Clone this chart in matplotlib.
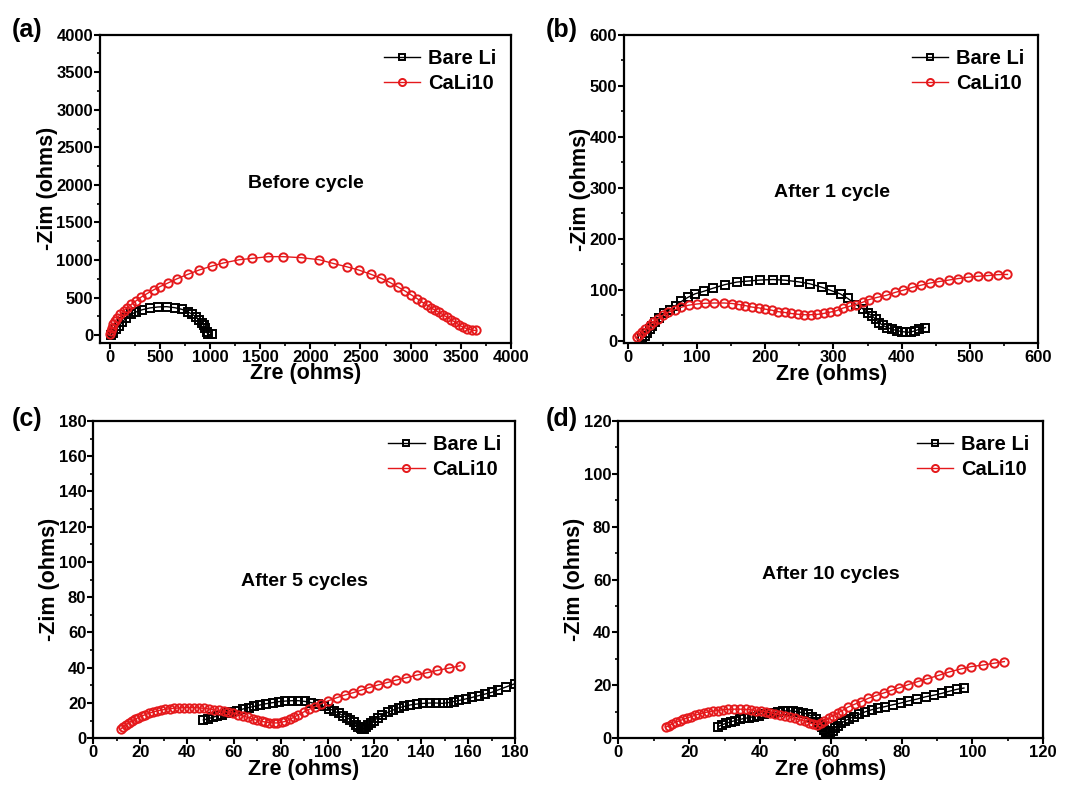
import matplotlib
matplotlib.use("Agg")
import matplotlib.pyplot as plt
from matplotlib.ticker import MultipleLocator

plt.rcParams['font.family'] = ['Liberation Sans', 'DejaVu Sans']
plt.rcParams['font.weight'] = 'bold'

# (a) before cycle
a_bare_x = [6, 32, 58, 90, 123, 161, 210, 258, 323, 397, 477, 565, 645, 716, 774, 823, 861,
            890, 913, 936, 952, 968, 974, 1016]
a_bare_y = [0, 31, 76, 121, 174, 232, 277, 308, 339, 362, 375, 379, 366, 344, 312, 277, 241,
            205, 165, 129, 89, 45, 9, 9]
a_cali_x = [0, 6, 16, 32, 52, 74, 103, 135, 171, 213, 258, 313, 371, 435, 500, 574, 668, 774,
            887, 1016, 1129, 1290, 1419, 1581, 1726, 1910, 2087, 2226, 2361, 2484, 2600, 2703,
            2794, 2871, 2942, 3007, 3065, 3113, 3162, 3200, 3242, 3281, 3323, 3361, 3403, 3445,
            3484, 3523, 3565, 3613, 3652]
a_cali_y = [18, 54, 98, 143, 187, 232, 277, 321, 366, 411, 455, 509, 554, 603, 647, 692, 750,
            808, 866, 920, 960, 1004, 1022, 1045, 1045, 1031, 1004, 955, 911, 866, 812, 759,
            701, 643, 589, 536, 487, 442, 402, 366, 335, 304, 272, 241, 205, 174, 134, 107,
            85, 67, 62]

# (b) after 1 cycle
b_bare_x = [20.5, 23.8, 27, 31, 34.8, 39.5, 45, 52, 60.5, 69, 77.6, 87, 97.6, 110.5, 124, 141,
            158.6, 175, 193, 212, 229.5, 249, 265.7, 283, 296, 310.5, 321, 333, 343, 350, 357,
            362, 366.7, 372.9, 378.6, 385.7, 392.9, 400, 407, 413, 419, 426, 434.8]
b_bare_y = [4.5, 9.7, 16, 22.6, 29, 36.8, 45, 53.5, 61, 69, 77, 85, 92, 97, 103, 110, 115, 117,
            119, 120, 118.7, 115.5, 111.6, 105, 98.7, 91.6, 83, 71, 62.6, 54.8, 48.4, 42, 35.5,
            30, 25.8, 22.6, 20, 18, 16.8, 16.8, 19.4, 22.6, 25.8]
b_cali_x = [12, 15.7, 20.5, 25, 31, 36.7, 42.9, 50, 58.6, 68, 77.6, 88, 100, 112, 126, 140.5,
            152, 162, 171, 181, 190.5, 200, 209.5, 219, 228.6, 238, 247.6, 257, 266.7, 276,
            285.7, 295, 304.8, 314, 324, 333, 343, 352, 364, 377.6, 390.5, 402, 415.7, 428.6,
            441, 454.8, 469, 483, 497.6, 512, 526, 540.5, 554.8]
b_cali_y = [6.5, 11.6, 17.4, 23.9, 30, 36.8, 43, 49.7, 56, 61, 65.8, 69.7, 72, 73.5, 74, 74, 73,
            71, 69, 66, 64.5, 62, 60, 57, 55.5, 53.5, 52, 51, 51, 51.6, 53.5, 56, 59, 64, 67.7,
            71, 75.5, 80.6, 85, 89, 94.8, 99, 104.5, 109, 113, 116, 119, 122, 124.5, 126.4,
            127.7, 129.6, 130]

# (c) after 5 cycles
c_bare_x = [47, 49, 51, 52.8, 54.9, 57, 59, 61.4, 63.9, 66.3, 68.7, 71.2, 73.8, 76.6, 79.3, 82,
            84.8, 87.6, 90.3, 93.1, 95.9, 98.3, 100.7, 102.8, 104.8, 106.6, 108.3, 109.8, 111.2,
            112.3, 113.2, 114.2, 114.9, 115.7, 116.6, 117.4, 118.5, 119.7, 121.5, 123.4, 125.7,
            128, 130.3, 132.8, 135.3, 138, 140.8, 143.6, 146.3, 149.1, 151.4, 153.8, 156.3, 159,
            161.8, 164.6, 167.3, 170, 172.8, 176, 180]
c_bare_y = [10.4, 11.1, 11.9, 12.6, 13.4, 14.2, 14.9, 15.7, 16.6, 17.4, 18.1, 18.9, 19.6, 20.2,
            20.8, 21.1, 21.3, 21.3, 20.9, 20.2, 19.2, 18.1, 16.8, 15.5, 14.2, 12.8, 11.7, 10.4,
            9.1, 7.7, 6.6, 5.7, 5.1, 5.5, 6.2, 7.5, 8.9, 10, 11.5, 13.2, 14.7, 16, 17.2, 18.1,
            18.9, 19.4, 19.8, 20, 20, 19.8, 20.2, 20.8, 21.5, 22.3, 23.2, 24.2, 25.1, 26, 27.4,
            29, 31]
c_cali_x = [11.7, 12.8, 13.9, 15.2, 16.4, 17.8, 19.2, 20.7, 22.2, 23.9, 25.5, 27.2, 29, 30.8,
            32.7, 34.6, 36.6, 38.8, 41, 43.2, 45.2, 47.3, 49.4, 51.4, 53.5, 55.6, 57.7, 59.7,
            61.8, 63.9, 65.9, 68, 70, 71.9, 73.5, 75.2, 77, 78.6, 80.4, 82, 83.9, 85.7, 87.6,
            89.8, 92.1, 94.5, 97.2, 100.4, 103.9, 107.3, 110.8, 114.2, 117.7, 121.4, 125.2,
            129.4, 133.5, 138, 142.5, 146.9, 151.9, 156.6]
c_cali_y = [5.1, 6.6, 7.7, 8.9, 9.8, 10.8, 11.7, 12.6, 13.4, 14.2, 14.9, 15.5, 16, 16.4, 16.8,
            17, 17.2, 17.4, 17.4, 17.4, 17.2, 17, 16.6, 16.2, 15.8, 15.3, 14.7, 14.2, 13.4, 12.6,
            11.9, 10.9, 10.2, 9.6, 9.2, 8.9, 8.7, 8.7, 9.1, 9.6, 10.8, 11.9, 13.4, 14.9, 16.4,
            17.9, 19.6, 21.3, 23, 24.5, 25.8, 27.2, 28.7, 30.2, 31.5, 33, 34.3, 35.8, 37.2,
            38.5, 39.8, 41.1]

# (d) after 10 cycles
d_bare_x = [28.2, 29.3, 30.5, 31.7, 33, 34.3, 35.5, 36.9, 38.3, 39.7, 41.1, 42.5, 43.9, 45.2,
            46.6, 48, 49.4, 50.8, 52.2, 53.6, 54.8, 55.7, 56.4, 57, 57.5, 58.1, 58.6, 59.3,
            59.9, 60.5, 61.1, 61.9, 62.8, 63.9, 65.1, 66.5, 68.1, 69.7, 71.6, 73.4, 75.4, 77.6,
            79.7, 81.9, 84.3, 86.8, 89.1, 91.4, 93.5, 95.6, 97.6]
d_bare_y = [4.4, 5.1, 5.7, 6.2, 6.7, 7.1, 7.5, 7.8, 8.2, 8.6, 9, 9.4, 9.7, 10, 10.3, 10.4, 10.3,
            10, 9.6, 9, 8.2, 7.3, 6.3, 5.3, 4.2, 3.2, 2.4, 2.2, 2.4, 2.9, 3.7, 4.7, 5.6, 6.5,
            7.3, 8.2, 9.1, 10, 10.8, 11.4, 12, 12.7, 13.3, 14.1, 14.8, 15.7, 16.3, 17, 17.8,
            18.5, 19]
d_cali_x = [13.4, 14.3, 15.2, 16.2, 17.3, 18.4, 19.5, 20.6, 21.7, 22.9, 24.1, 25.4, 26.8, 28.2,
            29.5, 31.1, 32.8, 34.4, 36, 37.4, 38.8, 40.2, 41.6, 42.9, 44.3, 45.7, 47.1, 48.5,
            49.9, 51.2, 52.6, 53.8, 54.9, 56, 57.2, 58.2, 59.4, 60.5, 61.9, 63.3, 64.9, 66.8,
            68.6, 70.6, 72.7, 74.9, 77.1, 79.4, 81.9, 84.5, 87.3, 90.5, 93.5, 96.7, 99.7, 103,
            106.2, 109]
d_cali_y = [4.2, 4.8, 5.4, 6.1, 6.6, 7.2, 7.7, 8.2, 8.7, 9.2, 9.6, 10, 10.3, 10.5, 10.8, 10.9,
            11, 11, 10.9, 10.8, 10.5, 10.3, 10, 9.6, 9.2, 8.9, 8.4, 8, 7.5, 7, 6.5, 5.9, 5.4,
            5.1, 5.7, 6.6, 7.6, 8.5, 9.5, 10.5, 11.8, 12.9, 13.9, 15.1, 16.1, 17.1, 18.1, 19.1,
            20.3, 21.4, 22.5, 23.8, 25.1, 26.2, 27.1, 27.7, 28.4, 29]

panels = [
    dict(tag="(a)", note="Before cycle", bx=a_bare_x, by=a_bare_y, cx=a_cali_x, cy=a_cali_y,
         xlim=(-100, 4000), ylim=(-100, 4000), major=500, minor=250, note_xy=(1950, 2020),
         rect=[0.0934, 0.5657, 0.3835, 0.3904], tag_xy=(0.011, 0.977)),
    dict(tag="(b)", note="After 1 cycle", bx=b_bare_x, by=b_bare_y, cx=b_cali_x, cy=b_cali_y,
         xlim=(-6, 600), ylim=(-5, 600), major=100, minor=50, note_xy=(298, 290),
         rect=[0.5829, 0.5649, 0.3866, 0.3911], tag_xy=(0.510, 0.977)),
    dict(tag="(c)", note="After 5 cycles", bx=c_bare_x, by=c_bare_y, cx=c_cali_x, cy=c_cali_y,
         xlim=(0, 180), ylim=(0, 180), major=20, minor=10, note_xy=(90, 89),
         rect=[0.0871, 0.0643, 0.3937, 0.4022], tag_xy=(0.011, 0.484)),
    dict(tag="(d)", note="After 10 cycles", bx=d_bare_x, by=d_bare_y, cx=d_cali_x, cy=d_cali_y,
         xlim=(0, 120), ylim=(0, 120), major=20, minor=10, note_xy=(60, 62),
         rect=[0.5773, 0.0643, 0.3968, 0.4022], tag_xy=(0.510, 0.484)),
]

red = '#e5191c'
fig = plt.figure(figsize=(10.71, 7.89), dpi=100)

for p in panels:
    ax = fig.add_axes(p["rect"])
    ax.plot(p["bx"], p["by"], color='black', marker='s', markersize=5.5, mfc='none',
            mew=1.4, lw=1, label='Bare Li')
    ax.plot(p["cx"], p["cy"], color=red, marker='o', markersize=6, mfc='none',
            mew=1.4, lw=1, label='CaLi10')
    ax.set_xlim(*p["xlim"])
    ax.set_ylim(*p["ylim"])
    ax.xaxis.set_major_locator(MultipleLocator(p["major"]))
    ax.xaxis.set_minor_locator(MultipleLocator(p["minor"]))
    ax.yaxis.set_major_locator(MultipleLocator(p["major"]))
    ax.yaxis.set_minor_locator(MultipleLocator(p["minor"]))
    ax.tick_params(which='major', direction='out', length=4, width=1.5, labelsize=12, pad=1)
    ax.tick_params(which='minor', direction='out', length=2.5, width=1.2)
    for s in ax.spines.values():
        s.set_linewidth(1.6)
    for lab in ax.get_xticklabels() + ax.get_yticklabels():
        lab.set_fontweight('bold')
    ax.set_xlabel("Zre (ohms)", fontsize=15.5, fontweight='bold', labelpad=-1)
    ax.set_ylabel("-Zim (ohms)", fontsize=15.5, fontweight='bold', labelpad=-1)
    ax.text(*p["note_xy"], p["note"], fontsize=14, fontweight='bold', ha='center', va='center')
    ax.legend(loc='upper right', frameon=False, handlelength=1.8, markerscale=0.85,
              handletextpad=0.4, labelspacing=0.3, borderaxespad=0.3,
              prop=dict(weight='bold', size=14.5))
    fig.text(*p["tag_xy"], p["tag"], fontsize=18, fontweight='bold', ha='left', va='top')

fig.savefig("out.png", dpi=100)
